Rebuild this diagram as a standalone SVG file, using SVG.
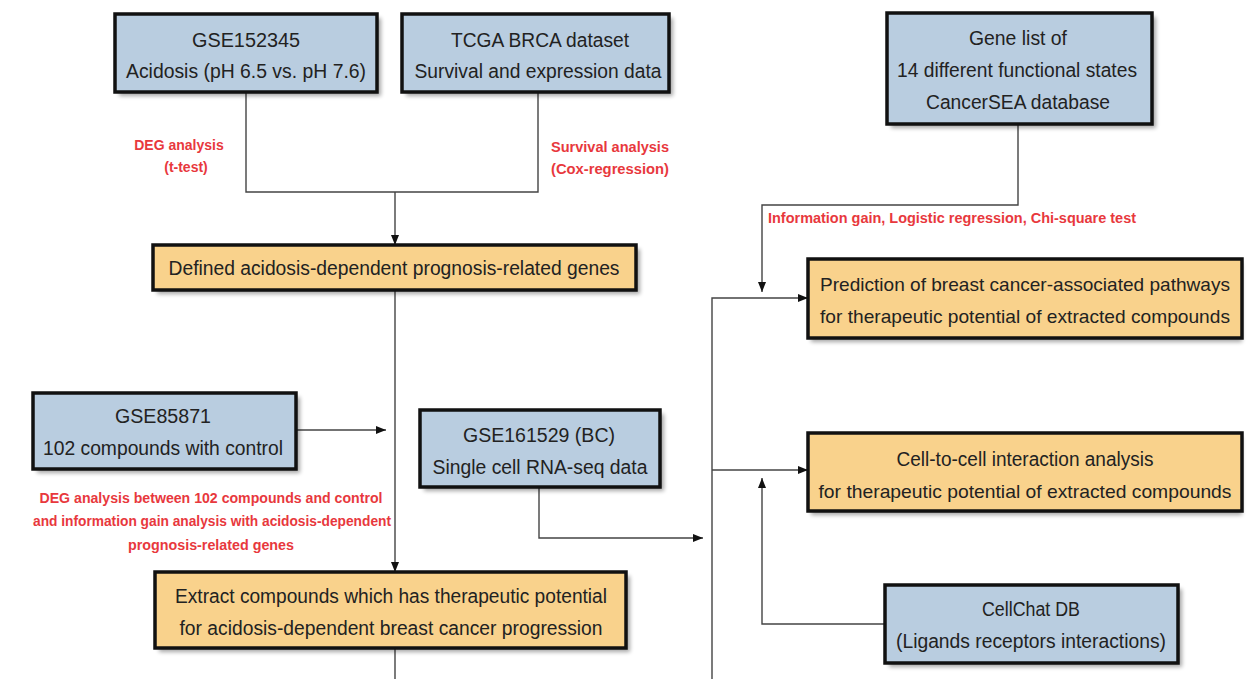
<svg xmlns="http://www.w3.org/2000/svg" width="1247" height="679" viewBox="0 0 1247 679">
<defs>
<style>
.blue{fill:#b9cde0;stroke:#111;stroke-width:3.5}
.orange{fill:#f9d28c;stroke:#111;stroke-width:3.5}
.shadow{fill:#000;opacity:0.35;filter:url(#blur)}
.t{font-family:"Liberation Sans",Arial,sans-serif;font-size:20px;fill:#222;text-anchor:middle}
.s{font-size:19px}
.r{font-family:"Liberation Sans",Arial,sans-serif;font-size:14px;font-weight:bold;fill:#e8383d;text-anchor:middle}
.ln{fill:none;stroke:#444;stroke-width:1.4}
</style>
<filter id="blur" x="-10%" y="-10%" width="120%" height="130%"><feGaussianBlur stdDeviation="2"/></filter>
<marker id="ah" viewBox="0 0 10 10" refX="10" refY="5" markerWidth="10" markerHeight="10" markerUnits="userSpaceOnUse" orient="auto"><path d="M0,1 L10,5 L0,9 z" fill="#111"/></marker>
</defs>
<rect width="1247" height="679" fill="#fff"/>

<g id="connectors">
<path class="ln" d="M246,92 V192 H538 V92"/>
<path class="ln" d="M395,192 V245" marker-end="url(#ah)"/>
<path class="ln" d="M395,290 V572" marker-end="url(#ah)"/>
<path class="ln" d="M395,648 V679"/>
<path class="ln" d="M296,430 H386" marker-end="url(#ah)"/>
<path class="ln" d="M539,487 V538 H703" marker-end="url(#ah)"/>
<path class="ln" d="M712,679 V298 H808" marker-end="url(#ah)"/>
<path class="ln" d="M712,470 H808" marker-end="url(#ah)"/>
<path class="ln" d="M1018,124 V205 H762 V292" marker-end="url(#ah)"/>
<path class="ln" d="M885,624 H762 V478" marker-end="url(#ah)"/>
</g>

<g id="labels">
<text class="r" x="179" y="150">DEG analysis</text>
<text class="r" x="186" y="172">(t-test)</text>
<text class="r" x="610" y="152" textLength="118" lengthAdjust="spacingAndGlyphs">Survival analysis</text>
<text class="r" x="610" y="174" textLength="118" lengthAdjust="spacingAndGlyphs">(Cox-regression)</text>
<text class="r" x="952" y="223" textLength="368" lengthAdjust="spacingAndGlyphs">Information gain, Logistic regression, Chi-square test</text>
<text class="r" x="211" y="503" textLength="343" lengthAdjust="spacingAndGlyphs">DEG analysis between  102 compounds and control</text>
<text class="r" x="212" y="526" textLength="358" lengthAdjust="spacingAndGlyphs">and information gain analysis with acidosis-dependent</text>
<text class="r" x="211" y="550" textLength="166" lengthAdjust="spacingAndGlyphs">prognosis-related genes</text>
</g>

<g id="n-gse152345">
<rect class="shadow" x="119" y="18" width="262" height="78"/>
<rect class="blue" x="115" y="14" width="262" height="78"/>
<text class="t" x="246" y="47" textLength="108" lengthAdjust="spacingAndGlyphs">GSE152345</text>
<text class="t" x="246" y="78" textLength="240" lengthAdjust="spacingAndGlyphs">Acidosis (pH 6.5 vs. pH 7.6)</text>
</g>

<g id="n-tcga">
<rect class="shadow" x="406" y="18" width="267" height="78"/>
<rect class="blue" x="402" y="14" width="267" height="78"/>
<text class="t" x="540" y="47" textLength="178" lengthAdjust="spacingAndGlyphs">TCGA BRCA dataset</text>
<text class="t" x="538" y="78" textLength="247" lengthAdjust="spacingAndGlyphs">Survival and expression data</text>
</g>

<g id="n-genelist">
<rect class="shadow" x="891" y="17" width="265" height="111"/>
<rect class="blue" x="887" y="13" width="265" height="111"/>
<text class="t" x="1018" y="45" textLength="98" lengthAdjust="spacingAndGlyphs">Gene list of</text>
<text class="t" x="1017" y="77" textLength="240" lengthAdjust="spacingAndGlyphs">14 different functional states</text>
<text class="t" x="1018" y="109" textLength="184" lengthAdjust="spacingAndGlyphs">CancerSEA database</text>
</g>

<g id="n-defined">
<rect class="shadow" x="157" y="249" width="483" height="45"/>
<rect class="orange" x="153" y="245" width="483" height="45"/>
<text class="t" x="394" y="275" textLength="451" lengthAdjust="spacingAndGlyphs">Defined acidosis-dependent prognosis-related genes</text>
</g>

<g id="n-gse85871">
<rect class="shadow" x="37" y="397" width="263" height="76"/>
<rect class="blue" x="33" y="393" width="263" height="76"/>
<text class="t" x="163" y="423" textLength="96" lengthAdjust="spacingAndGlyphs">GSE85871</text>
<text class="t" x="163" y="455" textLength="240" lengthAdjust="spacingAndGlyphs">102 compounds with control</text>
</g>

<g id="n-gse161529">
<rect class="shadow" x="424" y="414" width="240" height="77"/>
<rect class="blue" x="420" y="410" width="240" height="77"/>
<text class="t" x="539" y="442" textLength="152" lengthAdjust="spacingAndGlyphs">GSE161529 (BC)</text>
<text class="t" x="540" y="474" textLength="215" lengthAdjust="spacingAndGlyphs">Single cell RNA-seq data</text>
</g>

<g id="n-extract">
<rect class="shadow" x="159" y="576" width="471" height="76"/>
<rect class="orange" x="155" y="572" width="471" height="76"/>
<text class="t" x="391" y="603" textLength="432" lengthAdjust="spacingAndGlyphs">Extract compounds which has therapeutic potential</text>
<text class="t" x="391" y="635" textLength="423" lengthAdjust="spacingAndGlyphs">for acidosis-dependent breast cancer progression</text>
</g>

<g id="n-prediction">
<rect class="shadow" x="811" y="263" width="431" height="79"/>
<rect class="orange" x="808" y="259" width="434" height="79"/>
<text class="t s" x="1025" y="291" textLength="410" lengthAdjust="spacingAndGlyphs">Prediction of breast cancer-associated pathways</text>
<text class="t s" x="1025" y="323" textLength="410" lengthAdjust="spacingAndGlyphs">for therapeutic potential of extracted compounds</text>
</g>

<g id="n-celltocell">
<rect class="shadow" x="811" y="437" width="431" height="78"/>
<rect class="orange" x="808" y="433" width="434" height="78"/>
<text class="t" x="1025" y="466" textLength="257" lengthAdjust="spacingAndGlyphs">Cell-to-cell interaction analysis</text>
<text class="t s" x="1025" y="498" textLength="413" lengthAdjust="spacingAndGlyphs">for therapeutic potential of extracted compounds</text>
</g>

<g id="n-cellchat">
<rect class="shadow" x="889" y="589" width="293" height="78"/>
<rect class="blue" x="885" y="585" width="293" height="78"/>
<text class="t" x="1031" y="616" textLength="98" lengthAdjust="spacingAndGlyphs">CellChat DB</text>
<text class="t" x="1031" y="648" textLength="270" lengthAdjust="spacingAndGlyphs">(Ligands receptors interactions)</text>
</g>
</svg>
